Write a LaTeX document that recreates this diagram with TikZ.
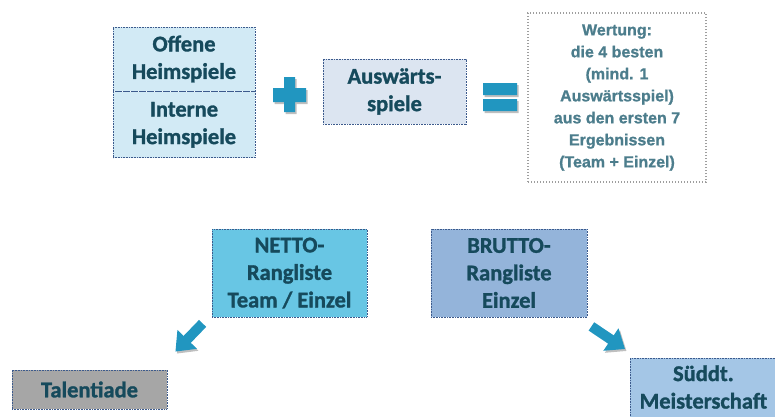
\documentclass[tikz,border=0pt]{standalone}
\usepackage{fontspec}
\setmainfont{Carlito}[BoldFont={Carlito Bold}]
\newfontfamily\tilefont{Carlito Bold}[FakeBold=1.3]
\newfontfamily\wertfont{Liberation Sans Bold}[FakeBold=1]
\usepackage{tikz}
\definecolor{tealInk}{RGB}{22,74,92}
\definecolor{grayInk}{RGB}{76,125,140}
\definecolor{opBlue}{RGB}{33,150,192}
\definecolor{dotBlue}{RGB}{60,90,140}
\definecolor{heimFill}{RGB}{210,234,245}
\definecolor{auswFill}{RGB}{220,229,241}
\definecolor{nettoFill}{RGB}{104,198,228}
\definecolor{bruttoFill}{RGB}{148,180,218}
\definecolor{talentFill}{RGB}{166,166,166}
\definecolor{suedFill}{RGB}{164,198,230}
\usetikzlibrary{arrows.meta, positioning, calc}

\begin{document}
\begin{tikzpicture}[
    x=1pt, y=-1pt,
    tile/.style={rectangle, draw=dotBlue, line width=0.8pt, dash pattern=on 0.8pt off 0.8pt, inner sep=0pt, align=center, text=tealInk, font=\tilefont\fontsize{22.5}{27.5}\selectfont},
    op/.style={fill=opBlue, preaction={fill=black!25, transform canvas={shift={(1.5pt,-2pt)}}}},
    bigarrow/.style={draw=opBlue, line width=10pt, -{Triangle[length=17pt, width=26pt]}, preaction={draw=black!25, transform canvas={shift={(1.5pt,-2pt)}}}}
]
    \useasboundingbox (0,0) rectangle (775,416);
    \clip (0,0) rectangle (775,416);

    \node[tile, fill=heimFill, minimum width=142pt, minimum height=64pt] (offene) at (184,59) {Offene\\Heimspiele};
    \node[tile, fill=heimFill, minimum width=142pt, minimum height=66pt, below=0pt of offene] (interne) {Interne\\Heimspiele};
    \node[tile, fill=auswFill, minimum width=143pt, minimum height=65pt] (auswaerts) at (394.5,91.5) {Auswärts-\\spiele};
    \node[rectangle, draw=black!38, line width=1.3pt, dash pattern=on 1.3pt off 1.7pt, minimum width=178pt, minimum height=169pt, align=center, text=grayInk, font=\wertfont\fontsize{16}{22}\selectfont] (wertung) at (617,97.5) {Wertung:\\die 4 besten\\(mind. 1\\Auswärtsspiel)\\aus den ersten 7\\Ergebnissen\\(Team + Einzel)};

    % plus and equals
    \fill[op] (273,88) rectangle (306,102) (284,77) rectangle (295,112);
    \fill[op] (483,83) rectangle (517,95) (483,99) rectangle (517,111);

    \node[tile, fill=nettoFill, minimum width=155pt, minimum height=88pt] (netto) at (289.5,273) {NETTO-\\Rangliste\\Team / Einzel};
    \node[tile, fill=bruttoFill, minimum width=156pt, minimum height=88pt] (brutto) at (509,273) {BRUTTO-\\Rangliste\\Einzel};
    \node[tile, fill=talentFill, minimum width=155pt, minimum height=39pt] (talent) at (89.5,389.5) {Talentiade};
    \node[tile, fill=suedFill, minimum width=146pt, minimum height=72pt, anchor=north west] (sued) at (630,358) {Süddt.\\Meisterschaft\rule[-15pt]{0pt}{15pt}};

    \draw[bigarrow] ($(netto.south west)+(-9,6)$) -- ($(talent.north east)+(8,-18)$);
    \draw[bigarrow] ($(brutto.south east)+(4,9)$) -- ($(sued.north west)+(-5,-9)$);
\end{tikzpicture}
\end{document}
